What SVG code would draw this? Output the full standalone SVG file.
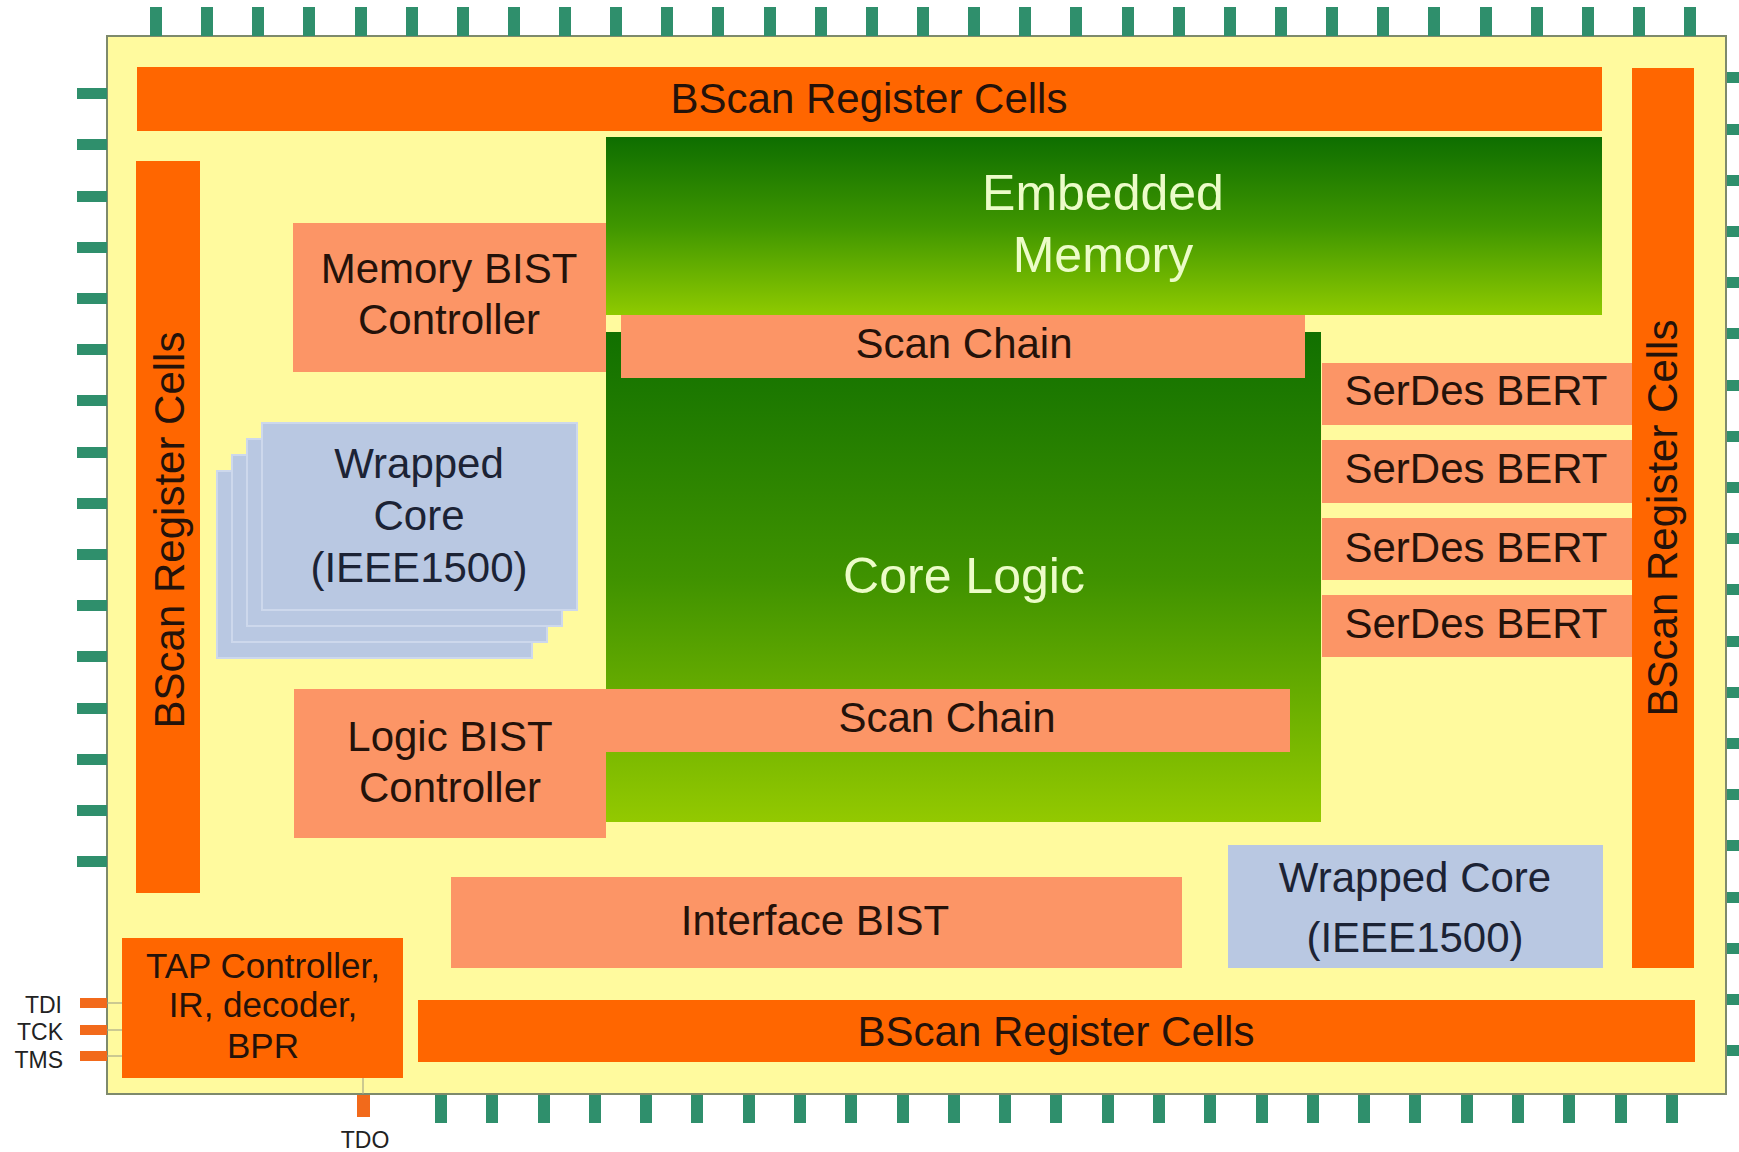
<svg xmlns="http://www.w3.org/2000/svg" width="1739" height="1152" viewBox="0 0 1739 1152">
  <style>
    text { font-family: "Liberation Sans", Arial, sans-serif; }
    .chip { fill: #fffa9e; stroke: #7e8a6c; stroke-width: 2; }
    .pin { fill: #2f8f6c; }
    .jpin { fill: #f26a1b; }
    .bscan { fill: #ff6600; }
    .salmon { fill: #fc9566; }
    .wrap { fill: #b9c8e2; }
    .wrapstack { fill: #b9c8e2; stroke: #cdd8ec; stroke-width: 2; }
    .lbl { font-size: 42px; fill: #24120a; text-anchor: middle; }
    .lblb { font-size: 42px; fill: #1c2335; text-anchor: middle; }
    .lblg { font-size: 50px; fill: #ecfcc8; text-anchor: middle; }
    .tap { font-size: 35px; fill: #24120a; text-anchor: middle; }
    .sig { font-size: 23px; fill: #222222; }
    .wire { stroke: #a8a888; stroke-width: 1.2; fill: none; }
  </style>
  <defs>
    <linearGradient id="gMem" x1="0" y1="0" x2="0" y2="1">
      <stop offset="0" stop-color="#0e6e00"/>
      <stop offset="0.5" stop-color="#3f9600"/>
      <stop offset="1" stop-color="#8fca00"/>
    </linearGradient>
    <linearGradient id="gCore" x1="0" y1="0" x2="0" y2="1">
      <stop offset="0" stop-color="#117000"/>
      <stop offset="0.5" stop-color="#3f9200"/>
      <stop offset="1" stop-color="#93c900"/>
    </linearGradient>
  </defs>

  <rect width="1739" height="1152" fill="#ffffff"/>

  <!-- die outline -->
  <rect id="chip" class="chip" x="107" y="36" width="1619" height="1058"/>

  <!-- I/O pads -->
  <g id="pins">
    <g id="pins-top">
      <rect class="pin" x="150" y="7" width="12" height="29"/>
      <rect class="pin" x="201" y="7" width="12" height="29"/>
      <rect class="pin" x="252" y="7" width="12" height="29"/>
      <rect class="pin" x="303" y="7" width="12" height="29"/>
      <rect class="pin" x="355" y="7" width="12" height="29"/>
      <rect class="pin" x="406" y="7" width="12" height="29"/>
      <rect class="pin" x="457" y="7" width="12" height="29"/>
      <rect class="pin" x="508" y="7" width="12" height="29"/>
      <rect class="pin" x="559" y="7" width="12" height="29"/>
      <rect class="pin" x="610" y="7" width="12" height="29"/>
      <rect class="pin" x="661" y="7" width="12" height="29"/>
      <rect class="pin" x="712" y="7" width="12" height="29"/>
      <rect class="pin" x="764" y="7" width="12" height="29"/>
      <rect class="pin" x="815" y="7" width="12" height="29"/>
      <rect class="pin" x="866" y="7" width="12" height="29"/>
      <rect class="pin" x="917" y="7" width="12" height="29"/>
      <rect class="pin" x="968" y="7" width="12" height="29"/>
      <rect class="pin" x="1019" y="7" width="12" height="29"/>
      <rect class="pin" x="1070" y="7" width="12" height="29"/>
      <rect class="pin" x="1122" y="7" width="12" height="29"/>
      <rect class="pin" x="1173" y="7" width="12" height="29"/>
      <rect class="pin" x="1224" y="7" width="12" height="29"/>
      <rect class="pin" x="1275" y="7" width="12" height="29"/>
      <rect class="pin" x="1326" y="7" width="12" height="29"/>
      <rect class="pin" x="1377" y="7" width="12" height="29"/>
      <rect class="pin" x="1428" y="7" width="12" height="29"/>
      <rect class="pin" x="1480" y="7" width="12" height="29"/>
      <rect class="pin" x="1531" y="7" width="12" height="29"/>
      <rect class="pin" x="1582" y="7" width="12" height="29"/>
      <rect class="pin" x="1633" y="7" width="12" height="29"/>
      <rect class="pin" x="1684" y="7" width="12" height="29"/>
    </g>
    <g id="pins-bottom">
      <rect class="pin" x="435" y="1095" width="12" height="28"/>
      <rect class="pin" x="486" y="1095" width="12" height="28"/>
      <rect class="pin" x="538" y="1095" width="12" height="28"/>
      <rect class="pin" x="589" y="1095" width="12" height="28"/>
      <rect class="pin" x="640" y="1095" width="12" height="28"/>
      <rect class="pin" x="691" y="1095" width="12" height="28"/>
      <rect class="pin" x="743" y="1095" width="12" height="28"/>
      <rect class="pin" x="794" y="1095" width="12" height="28"/>
      <rect class="pin" x="845" y="1095" width="12" height="28"/>
      <rect class="pin" x="897" y="1095" width="12" height="28"/>
      <rect class="pin" x="948" y="1095" width="12" height="28"/>
      <rect class="pin" x="999" y="1095" width="12" height="28"/>
      <rect class="pin" x="1050" y="1095" width="12" height="28"/>
      <rect class="pin" x="1102" y="1095" width="12" height="28"/>
      <rect class="pin" x="1153" y="1095" width="12" height="28"/>
      <rect class="pin" x="1204" y="1095" width="12" height="28"/>
      <rect class="pin" x="1256" y="1095" width="12" height="28"/>
      <rect class="pin" x="1307" y="1095" width="12" height="28"/>
      <rect class="pin" x="1358" y="1095" width="12" height="28"/>
      <rect class="pin" x="1409" y="1095" width="12" height="28"/>
      <rect class="pin" x="1461" y="1095" width="12" height="28"/>
      <rect class="pin" x="1512" y="1095" width="12" height="28"/>
      <rect class="pin" x="1563" y="1095" width="12" height="28"/>
      <rect class="pin" x="1615" y="1095" width="12" height="28"/>
      <rect class="pin" x="1666" y="1095" width="12" height="28"/>
    </g>
    <g id="pins-left">
      <rect class="pin" x="77" y="88" width="30" height="11"/>
      <rect class="pin" x="77" y="139" width="30" height="11"/>
      <rect class="pin" x="77" y="191" width="30" height="11"/>
      <rect class="pin" x="77" y="242" width="30" height="11"/>
      <rect class="pin" x="77" y="293" width="30" height="11"/>
      <rect class="pin" x="77" y="344" width="30" height="11"/>
      <rect class="pin" x="77" y="395" width="30" height="11"/>
      <rect class="pin" x="77" y="447" width="30" height="11"/>
      <rect class="pin" x="77" y="498" width="30" height="11"/>
      <rect class="pin" x="77" y="549" width="30" height="11"/>
      <rect class="pin" x="77" y="600" width="30" height="11"/>
      <rect class="pin" x="77" y="651" width="30" height="11"/>
      <rect class="pin" x="77" y="703" width="30" height="11"/>
      <rect class="pin" x="77" y="754" width="30" height="11"/>
      <rect class="pin" x="77" y="805" width="30" height="11"/>
      <rect class="pin" x="77" y="856" width="30" height="11"/>
    </g>
    <g id="pins-right">
      <rect class="pin" x="1727" y="72" width="12" height="11"/>
      <rect class="pin" x="1727" y="124" width="12" height="11"/>
      <rect class="pin" x="1727" y="175" width="12" height="11"/>
      <rect class="pin" x="1727" y="226" width="12" height="11"/>
      <rect class="pin" x="1727" y="277" width="12" height="11"/>
      <rect class="pin" x="1727" y="328" width="12" height="11"/>
      <rect class="pin" x="1727" y="380" width="12" height="11"/>
      <rect class="pin" x="1727" y="431" width="12" height="11"/>
      <rect class="pin" x="1727" y="482" width="12" height="11"/>
      <rect class="pin" x="1727" y="533" width="12" height="11"/>
      <rect class="pin" x="1727" y="584" width="12" height="11"/>
      <rect class="pin" x="1727" y="636" width="12" height="11"/>
      <rect class="pin" x="1727" y="687" width="12" height="11"/>
      <rect class="pin" x="1727" y="738" width="12" height="11"/>
      <rect class="pin" x="1727" y="789" width="12" height="11"/>
      <rect class="pin" x="1727" y="840" width="12" height="11"/>
      <rect class="pin" x="1727" y="892" width="12" height="11"/>
      <rect class="pin" x="1727" y="943" width="12" height="11"/>
      <rect class="pin" x="1727" y="994" width="12" height="11"/>
      <rect class="pin" x="1727" y="1045" width="12" height="11"/>
    </g>
    <g id="pins-jtag">
      <rect class="jpin" x="80" y="998" width="27" height="10"/>
      <rect class="jpin" x="80" y="1025" width="27" height="10"/>
      <rect class="jpin" x="80" y="1051" width="27" height="10"/>
      <rect class="jpin" x="357" y="1095" width="13" height="22"/>
    </g>
  </g>

  <!-- JTAG pad wiring -->
  <g id="connectors">
    <line class="wire" x1="107" y1="1003" x2="122" y2="1003"/>
    <line class="wire" x1="107" y1="1030" x2="122" y2="1030"/>
    <line class="wire" x1="107" y1="1056" x2="122" y2="1056"/>
    <line class="wire" x1="363" y1="1078" x2="363" y2="1094"/>
  </g>

  <!-- boundary scan ring -->
  <g id="bscan-top">
    <rect class="bscan" x="137" y="67" width="1465" height="64"/>
    <text class="lbl" x="869" y="113">BScan Register Cells</text>
  </g>
  <g id="bscan-left">
    <rect class="bscan" x="136" y="161" width="64" height="732"/>
    <text class="lbl" transform="translate(184 530) rotate(-90)">BScan Register Cells</text>
  </g>
  <g id="bscan-right">
    <rect class="bscan" x="1632" y="68" width="62" height="900"/>
    <text class="lbl" transform="translate(1677 518) rotate(-90)">BScan Register Cells</text>
  </g>
  <g id="bscan-bottom">
    <rect class="bscan" x="418" y="1000" width="1277" height="62"/>
    <text class="lbl" x="1056" y="1046">BScan Register Cells</text>
  </g>

  <!-- memory -->
  <g id="embedded-memory">
    <rect x="606" y="137" width="996" height="178" fill="url(#gMem)"/>
    <text class="lblg" x="1103" y="210">Embedded</text>
    <text class="lblg" x="1103" y="272">Memory</text>
  </g>
  <g id="memory-bist">
    <rect class="salmon" x="293" y="223" width="313" height="149"/>
    <text class="lbl" x="449" y="283">Memory BIST</text>
    <text class="lbl" x="449" y="334">Controller</text>
  </g>

  <!-- core logic and its scan chains -->
  <g id="core-logic">
    <rect x="606" y="332" width="715" height="490" fill="url(#gCore)"/>
    <text class="lblg" x="964" y="593">Core Logic</text>
  </g>
  <g id="scan-chain-top">
    <rect class="salmon" x="621" y="315" width="684" height="63"/>
    <text class="lbl" x="964" y="358">Scan Chain</text>
  </g>
  <g id="scan-chain-bottom">
    <rect class="salmon" x="606" y="689" width="684" height="63"/>
    <text class="lbl" x="947" y="732">Scan Chain</text>
  </g>
  <g id="logic-bist">
    <rect class="salmon" x="294" y="689" width="312" height="149"/>
    <text class="lbl" x="450" y="751">Logic BIST</text>
    <text class="lbl" x="450" y="802">Controller</text>
  </g>

  <!-- stacked wrapped cores -->
  <g id="wrapped-core-stack">
    <rect class="wrapstack" x="217" y="471" width="315" height="187"/>
    <rect class="wrapstack" x="232" y="455" width="315" height="187"/>
    <rect class="wrapstack" x="247" y="439" width="315" height="187"/>
    <rect class="wrapstack" x="262" y="423" width="315" height="187"/>
    <text class="lblb" x="419" y="478">Wrapped</text>
    <text class="lblb" x="419" y="530">Core</text>
    <text class="lblb" x="419" y="582">(IEEE1500)</text>
  </g>

  <!-- SerDes BERT blocks -->
  <g id="serdes-bert-1">
    <rect class="salmon" x="1322" y="363" width="310" height="62"/>
    <text class="lbl" x="1476" y="405">SerDes BERT</text>
  </g>
  <g id="serdes-bert-2">
    <rect class="salmon" x="1322" y="440" width="310" height="63"/>
    <text class="lbl" x="1476" y="483">SerDes BERT</text>
  </g>
  <g id="serdes-bert-3">
    <rect class="salmon" x="1322" y="518" width="310" height="62"/>
    <text class="lbl" x="1476" y="562">SerDes BERT</text>
  </g>
  <g id="serdes-bert-4">
    <rect class="salmon" x="1322" y="595" width="310" height="62"/>
    <text class="lbl" x="1476" y="638">SerDes BERT</text>
  </g>

  <g id="interface-bist">
    <rect class="salmon" x="451" y="877" width="731" height="91"/>
    <text class="lbl" x="815" y="935">Interface BIST</text>
  </g>
  <g id="wrapped-core">
    <rect class="wrap" x="1228" y="845" width="375" height="123"/>
    <text class="lblb" x="1415" y="892">Wrapped Core</text>
    <text class="lblb" x="1415" y="952">(IEEE1500)</text>
  </g>

  <!-- TAP controller -->
  <g id="tap-controller">
    <rect class="bscan" x="122" y="938" width="281" height="140"/>
    <text class="tap" x="263" y="978">TAP Controller,</text>
    <text class="tap" x="263" y="1017">IR, decoder,</text>
    <text class="tap" x="263" y="1058">BPR</text>
  </g>

  <!-- JTAG signal names -->
  <g id="jtag-labels">
    <text class="sig" x="62" y="1013" text-anchor="end">TDI</text>
    <text class="sig" x="63" y="1040" text-anchor="end">TCK</text>
    <text class="sig" x="63" y="1068" text-anchor="end">TMS</text>
    <text class="sig" x="365" y="1148" text-anchor="middle">TDO</text>
  </g>
</svg>
